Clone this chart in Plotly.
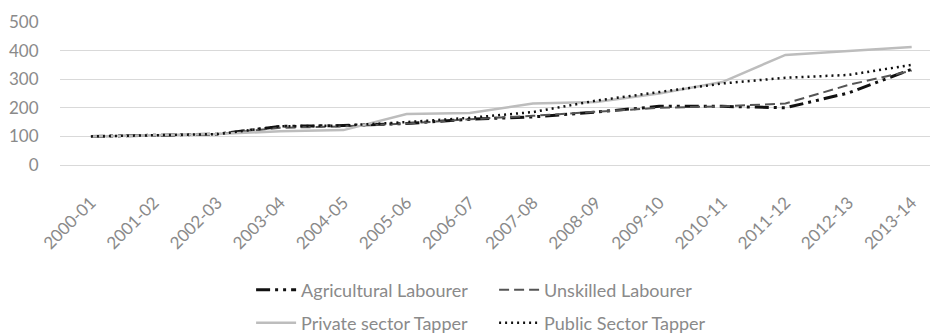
import plotly.graph_objects as go

years = ["2000-01", "2001-02", "2002-03", "2003-04", "2004-05", "2005-06", "2006-07",
         "2007-08", "2008-09", "2009-10", "2010-11", "2011-12", "2012-13", "2013-14"]

agricultural = [100, 105, 108, 135, 138, 145, 160, 168, 185, 205, 205, 200, 252, 335]
unskilled = [100, 105, 108, 130, 135, 145, 160, 172, 185, 200, 205, 215, 280, 330]
private_tapper = [100, 105, 108, 118, 122, 178, 182, 215, 220, 250, 290, 385, 398, 413]
public_tapper = [100, 105, 108, 135, 138, 150, 165, 185, 225, 255, 285, 305, 315, 350]

y_ticks = [0, 100, 200, 300, 400, 500]

fig = go.Figure()
fig.add_trace(go.Scatter(x=years, y=agricultural, mode="lines", name="Agricultural Labourer",
                         legend="legend",
                         line=dict(color="#111111", width=3, dash="14px,5px,3px,5px,3px,5px")))
fig.add_trace(go.Scatter(x=years, y=unskilled, mode="lines", name="Unskilled Labourer",
                         legend="legend",
                         line=dict(color="#555555", width=2, dash="10px,5px")))
fig.add_trace(go.Scatter(x=years, y=private_tapper, mode="lines", name="Private sector Tapper",
                         legend="legend2",
                         line=dict(color="#bdbdbd", width=2.5)))
fig.add_trace(go.Scatter(x=years, y=public_tapper, mode="lines", name="Public Sector Tapper",
                         legend="legend2",
                         line=dict(color="#111111", width=2.5, dash="2px,4px")))

font_family = "Lato, 'Open Sans', 'Liberation Sans', sans-serif"
legend_common = dict(orientation="h", xref="container", yref="container",
                     xanchor="left", yanchor="middle",
                     entrywidth=188, entrywidthmode="pixels",
                     font=dict(size=18, color="#8a8a8a"), itemwidth=40,
                     bgcolor="rgba(0,0,0,0)")

fig.update_layout(
    width=930, height=333,
    margin=dict(l=60, r=0, t=22, b=168),
    plot_bgcolor="white", paper_bgcolor="white",
    font=dict(family=font_family, size=16, color="#8a8a8a"),
    showlegend=True,
    legend=dict(x=0.27, y=1 - 290 / 333, **legend_common),
    legend2=dict(x=0.27, y=1 - 323 / 333, **legend_common),
    xaxis=dict(type="category", range=[-0.49, 13.29], tickangle=-45,
               showgrid=False, showline=False, zeroline=False,
               ticks="outside", ticklen=20, tickcolor="rgba(0,0,0,0)",
               tickfont=dict(size=17, color="#8a8a8a")),
    yaxis=dict(range=[0, 500], tickvals=y_ticks, showgrid=True, gridcolor="#d9d9d9",
               gridwidth=1, zeroline=True, zerolinecolor="#d9d9d9", zerolinewidth=1,
               showline=False, ticks="outside", ticklen=17, tickcolor="rgba(0,0,0,0)",
               tickfont=dict(size=17, color="#8a8a8a")),
)

fig.write_html("out.html")
